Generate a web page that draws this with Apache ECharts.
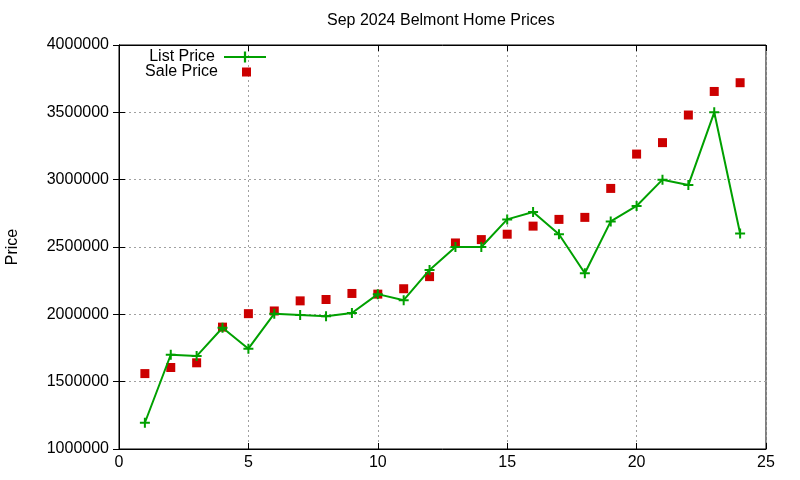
<!DOCTYPE html>
<html>
<head>
<meta charset="utf-8">
<script src="https://cdn.jsdelivr.net/npm/echarts@6/dist/echarts.min.js"></script>
<style>
  html, body { margin: 0; padding: 0; background: #fff; }
  #chart { width: 800px; height: 480px; }
</style>
</head>
<body>
<div id="chart"></div>
<script>
// month index 1..24
const months = [1, 2, 3, 4, 5, 6, 7, 8, 9, 10, 11, 12, 13, 14, 15, 16, 17, 18, 19, 20, 21, 22, 23, 24];
const listPrice = [1195000, 1700000, 1690000, 1900000, 1745000, 2005000, 1995000, 1985000, 2010000, 2150000, 2105000, 2330000,
                   2500000, 2500000, 2705000, 2760000, 2595000, 2305000, 2690000, 2805000, 3000000, 2960000, 3500000, 2600000];
const salePrice = [1560000, 1605000, 1640000, 1905000, 2005000, 2025000, 2100000, 2110000, 2155000, 2150000, 2190000, 2280000,
                   2530000, 2555000, 2595000, 2655000, 2705000, 2720000, 2935000, 3190000, 3275000, 3480000, 3655000, 3720000];

const FONT = '"Liberation Sans", Arial, sans-serif';
const GREEN = '#00a000';
const RED = '#cc0000';
const PLUS = 'path://M4,0H6V4H10V6H6V10H4V6H0V4H4Z';

const gridLine = { show: true, lineStyle: { color: '#a0a0a0', type: [2, 3], width: 1 } };
const tickIn = { show: true, inside: true, length: 6, lineStyle: { color: '#000' } };
const legendText = { fontFamily: FONT, fontSize: 16, color: '#000' };

const myChart = echarts.init(document.getElementById('chart'));

const option = {
    backgroundColor: '#fff',
    animation: false,
    title: {
        text: 'Sep 2024 Belmont Home Prices',
        left: 327, top: 13, padding: 0,
        textStyle: { fontFamily: FONT, fontSize: 16, fontWeight: 'normal', color: '#000' }
    },
    legend: [
        {
            data: ['List Price'],
            right: 533, top: 49, padding: 0, align: 'right',
            itemWidth: 42, itemHeight: 14,
            textStyle: Object.assign({ padding: [0, 4, 0, 0] }, legendText)
        },
        {
            data: ['Sale Price'],
            right: 549, top: 64, padding: 0, align: 'right',
            itemWidth: 9, itemHeight: 9,
            textStyle: Object.assign({ padding: [0, 19, 0, 0] }, legendText)
        }
    ],
    grid: {
        left: 119, right: 34, top: 45, bottom: 31,
        outerBoundsMode: 'none', containLabel: false,
        show: true, borderColor: '#000', borderWidth: 1
    },
    xAxis: [
        {
            type: 'value', min: 0, max: 25, interval: 5,
            axisLine: { show: true, lineStyle: { color: '#000' } },
            axisTick: tickIn,
            splitLine: gridLine,
            axisLabel: { fontFamily: FONT, fontSize: 16, color: '#000', margin: 6 }
        },
        {
            type: 'value', position: 'top', min: 0, max: 25, interval: 5,
            axisLine: { show: true, lineStyle: { color: '#000' } },
            axisTick: tickIn, splitLine: { show: false }, axisLabel: { show: false }
        }
    ],
    yAxis: [
        {
            type: 'value', min: 1000000, max: 4000000, interval: 500000,
            name: 'Price', nameLocation: 'middle', nameRotate: 90, nameGap: 98,
            nameTextStyle: { fontFamily: FONT, fontSize: 16, color: '#000' },
            axisLine: { show: true, lineStyle: { color: '#000' } },
            axisTick: tickIn,
            splitLine: gridLine,
            axisLabel: { fontFamily: FONT, fontSize: 16, color: '#000', margin: 10, formatter: v => String(v) }
        },
        {
            type: 'value', position: 'right', min: 1000000, max: 4000000, interval: 500000,
            axisLine: { show: true, lineStyle: { color: '#000' } },
            axisTick: tickIn, splitLine: { show: false }, axisLabel: { show: false }
        }
    ],
    series: [
        {
            name: 'List Price', type: 'line',
            data: months.map((m, i) => [m, listPrice[i]]),
            symbol: PLUS, symbolSize: 10, showAllSymbol: true,
            lineStyle: { color: GREEN, width: 2 },
            itemStyle: { color: GREEN },
            z: 3
        },
        {
            name: 'Sale Price', type: 'scatter',
            data: months.map((m, i) => [m, salePrice[i]]),
            symbol: 'rect', symbolSize: 9,
            itemStyle: { color: RED, opacity: 1 },
            z: 2
        }
    ]
};

myChart.setOption(option);
</script>
</body>
</html>
